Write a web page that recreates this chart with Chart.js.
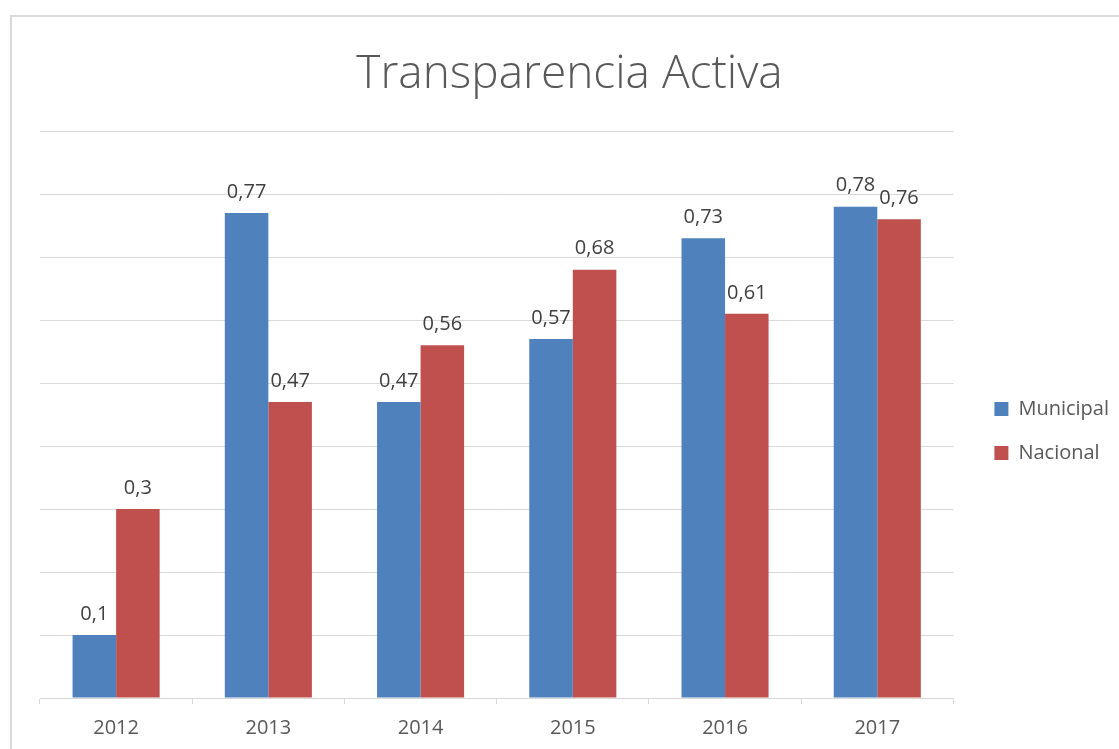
<!DOCTYPE html>
<html>
<head>
<meta charset="utf-8">
<script src="https://cdn.jsdelivr.net/npm/chart.js@4"></script>
<style>
  body { margin: 0; background: #fff; }
  #frame {
    position: absolute; left: 10px; top: 15px; width: 1120px; height: 740px;
    border-top: 2px solid #D9D9D9; border-left: 2px solid #D9D9D9;
  }
  #wrap { position: absolute; left: 0; top: 0; width: 1119px; height: 749px; }
</style>
</head>
<body>
<div id="frame"></div>
<div id="wrap"><canvas id="taChart"></canvas></div>
<script>
const years = ["2012", "2013", "2014", "2015", "2016", "2017"];
const municipal = [0.1, 0.77, 0.47, 0.57, 0.73, 0.78];
const nacional = [0.3, 0.47, 0.56, 0.68, 0.61, 0.76];

Chart.defaults.font.family = "'Open Sans', sans-serif";
Chart.defaults.color = "#595959";

// etiquetas de valor encima de cada barra
const valueLabels = {
    id: "valueLabels",
    afterDatasetsDraw(chart) {
        const ctx = chart.ctx;
        ctx.save();
        ctx.font = "20px 'Open Sans', sans-serif";
        ctx.fillStyle = "#404040";
        ctx.textAlign = "center";
        ctx.textBaseline = "middle";
        chart.data.datasets.forEach(function (ds, i) {
            chart.getDatasetMeta(i).data.forEach(function (bar, j) {
                const txt = String(ds.data[j]).replace(".", ",");
                ctx.fillText(txt, bar.x, bar.y - 21);
            });
        });
        ctx.restore();
    }
};

const ctx = document.getElementById("taChart").getContext("2d");
new Chart(ctx, {
    type: "bar",
    data: {
        labels: years,
        datasets: [{
            label: "Municipal",
            data: municipal,
            backgroundColor: "#4F81BD"
        }, {
            label: "Nacional",
            data: nacional,
            backgroundColor: "#C0504D"
        }]
    },
    options: {
        responsive: true,
        maintainAspectRatio: false,
        animation: false,
        categoryPercentage: 0.572,
        barPercentage: 1,
        layout: {
            padding: { left: 20, right: 0, top: 15, bottom: 9 }
        },
        plugins: {
            title: {
                display: true,
                text: "Transparencia Activa",
                color: "#595959",
                font: { size: 46, weight: "300" },
                padding: { top: 32, bottom: 29 }
            },
            legend: {
                position: "right",
                fullSize: false,
                title: { display: true, text: " ", font: { size: 33, lineHeight: 1 }, padding: 0 },
                labels: {
                    boxWidth: 14,
                    boxHeight: 14,
                    padding: 24,
                    color: "#595959",
                    font: { size: 20 }
                }
            },
            tooltip: { enabled: false }
        },
        scales: {
            x: {
                grid: {
                    drawOnChartArea: false,
                    tickLength: 6,
                    color: "#D9D9D9"
                },
                border: { color: "#D9D9D9" },
                ticks: { color: "#595959", font: { size: 20 }, padding: 12 },
                afterFit: function (scale) { scale.height = 42; }
            },
            y: {
                min: 0,
                max: 0.9,
                ticks: { display: false, stepSize: 0.1 },
                grid: { color: "#D9D9D9", drawTicks: false },
                border: { display: false },
                afterFit: function (scale) { scale.width = 20; }
            },
            yRight: {
                position: "right",
                ticks: { display: false },
                grid: { display: false, drawTicks: false },
                border: { display: false },
                afterFit: function (scale) { scale.width = 17; }
            }
        }
    },
    plugins: [valueLabels]
});
</script>
</body>
</html>
